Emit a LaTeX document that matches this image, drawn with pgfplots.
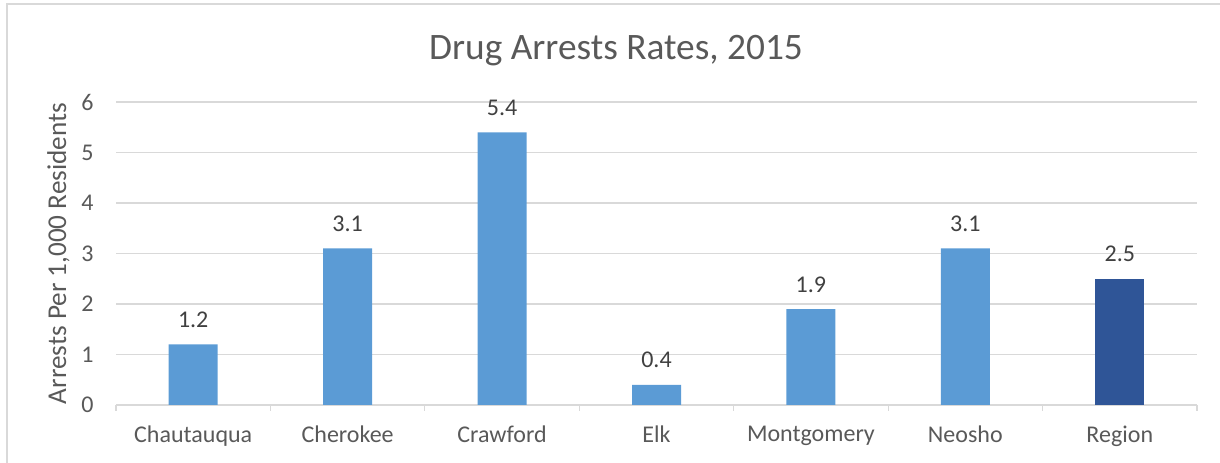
\documentclass[border=0pt]{standalone}
\usepackage{pgfplots}
\pgfplotsset{compat=1.18}
\usepackage{fontspec}
\setmainfont{Carlito}
\definecolor{txt}{HTML}{595959}
\definecolor{lbl}{HTML}{404040}
\definecolor{grd}{HTML}{D9D9D9}
\definecolor{barA}{HTML}{5B9BD5}
\definecolor{barB}{HTML}{2F5597}
\begin{document}
\begin{tikzpicture}
\useasboundingbox (0,0) rectangle (915pt,347.25pt);
% chart frame
\draw[grd, line width=1.2pt] (5.25pt,0) -- (5.25pt,344.25pt) -- (915pt,344.25pt);
\node[txt, font=\fontsize{28}{32}\selectfont] at (462pt,309pt) {Drug Arrests Rates, 2015};
\begin{axis}[
  at={(87pt,43.5pt)}, anchor=south west,
  scale only axis, width=810.75pt, height=227.25pt,
  xmin=-0.5, xmax=6.5, ymin=0, ymax=6,
  ytick={0,1,...,6},
  xtick={0,...,6},
  xticklabels={Chautauqua,Cherokee,Crawford,Elk,Montgomery,Neosho,Region},
  minor xtick={-0.5,0.5,...,6.5},
  major x tick style={draw=none},
  minor x tick style={grd, line width=0.9pt},
  minor tick length=4.5pt,
  tick align=outside,
  ytick style={draw=none},
  ymajorgrids, grid style={grd, line width=0.9pt},
  axis lines*=left,
  x axis line style={grd, line width=0.9pt, -},
  y axis line style={draw=none},
  tick label style={txt, font=\fontsize{18}{21}\selectfont},
  xticklabel style={yshift=-8pt},
  yticklabel style={xshift=-9pt},
  ylabel={Arrests Per 1,000 Residents},
  ylabel style={txt, font=\fontsize{20.4}{23}\selectfont, yshift=2pt},
  ybar, bar width=36.75pt, bar shift=0pt,
  nodes near coords={\pgfmathprintnumber[fixed,fixed zerofill,precision=1]{\pgfplotspointmeta}},
  nodes near coords style={lbl, font=\fontsize{18}{21}\selectfont, yshift=9pt},
  /pgf/number format/assume math mode=true,
]
\addplot[fill=barA, draw=none] coordinates {(0,1.2) (1,3.1) (2,5.4) (3,0.4) (4,1.9) (5,3.1)};
\addplot[fill=barB, draw=none] coordinates {(6,2.5)};
\end{axis}
\end{tikzpicture}
\end{document}
